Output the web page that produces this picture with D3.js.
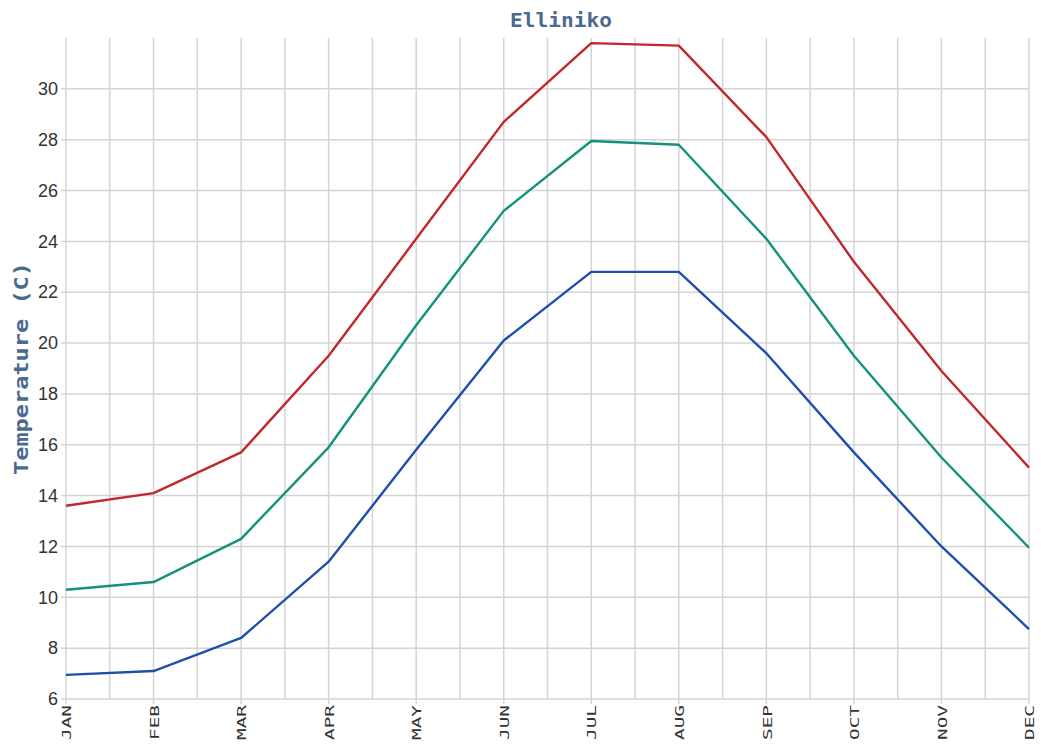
<!DOCTYPE html>
<html><head><meta charset="utf-8">
<script src="https://cdn.jsdelivr.net/npm/d3@7/dist/d3.min.js"></script>
<style>body{margin:0;background:#fff}svg{display:block}</style>
</head><body>
<svg id="c" width="1041" height="745"></svg>
<script>
const months = ["JAN","FEB","MAR","APR","MAY","JUN","JUL","AUG","SEP","OCT","NOV","DEC"];
const maxTemp = [13.6,14.1,15.7,19.5,24.1,28.7,31.8,31.7,28.1,23.2,18.9,15.1];
const meanTemp = [10.3,10.6,12.3,15.9,20.7,25.2,27.95,27.8,24.1,19.5,15.5,11.95];
const minTemp = [6.95,7.1,8.4,11.4,15.8,20.1,22.8,22.8,19.6,15.7,12.0,8.75];
const yTicks = [6,8,10,12,14,16,18,20,22,24,26,28,30];
const title = "Elliniko";
const yLabel = "Temperature (C)";

const svg = d3.select("#c");
const m = {l:66, r:1029, t:38, b:699};
const x = d3.scaleLinear().domain([0,11]).range([m.l,m.r]);
const y = d3.scaleLinear().domain([6,32]).range([m.b,m.t]);

const grid = svg.append("g").attr("stroke","#d4d4d4").attr("stroke-width",1.5);
d3.range(0,11.01,0.5).forEach(v=>{
  grid.append("line").attr("x1",x(v)).attr("x2",x(v)).attr("y1",m.t).attr("y2",m.b);
});
yTicks.forEach(v=>{
  grid.append("line").attr("x1",m.l-5).attr("x2",m.r).attr("y1",y(v)).attr("y2",y(v));
});
months.forEach((mo,i)=>{
  grid.append("line").attr("x1",x(i)).attr("x2",x(i)).attr("y1",m.b).attr("y2",m.b+5);
});

const yAxis = d3.axisLeft(y).tickValues(yTicks).tickSize(0).tickPadding(8);
const ga = svg.append("g").attr("transform",`translate(${m.l},0)`).call(yAxis);
ga.select(".domain").remove();
ga.selectAll("text").attr("font-family","Liberation Sans, Arial, sans-serif").attr("font-size",18).attr("fill","#333");

const xAxis = d3.axisBottom(x).tickValues(d3.range(12)).tickFormat(i=>months[i]).tickSize(0);
const gx = svg.append("g").attr("transform",`translate(0,${m.b})`).call(xAxis);
gx.select(".domain").remove();
gx.selectAll("text")
  .attr("font-family","DejaVu Sans Mono, monospace").attr("font-size",13).attr("fill","#333")
  .attr("text-anchor","end").attr("transform","rotate(-90)")
  .attr("textLength",35).attr("lengthAdjust","spacingAndGlyphs")
  .attr("x",-6).attr("y",0).attr("dy","0.36em");

const line = d3.line().x((d,i)=>x(i)).y(d=>y(d));
[[maxTemp,"#c1272d"],[meanTemp,"#14917d"],[minTemp,"#1f4fad"]].forEach(([data,c])=>{
  svg.append("path").datum(data).attr("d",line).attr("fill","none").attr("stroke",c)
    .attr("stroke-width",2.4).attr("stroke-linejoin","round");
});

svg.append("text").attr("x",561).attr("y",27).attr("text-anchor","middle")
  .attr("font-family","DejaVu Sans Mono, monospace").attr("font-weight","bold").attr("font-size",20)
  .attr("textLength",102).attr("lengthAdjust","spacingAndGlyphs")
  .attr("fill","#4a6a90").text(title);
svg.append("text").attr("transform",`translate(28,${(m.t+m.b)/2}) rotate(-90)`).attr("text-anchor","middle")
  .attr("font-family","DejaVu Sans Mono, monospace").attr("font-weight","bold").attr("font-size",20)
  .attr("textLength",213).attr("lengthAdjust","spacingAndGlyphs")
  .attr("fill","#4a6a90").text(yLabel);
</script>
</body></html>
